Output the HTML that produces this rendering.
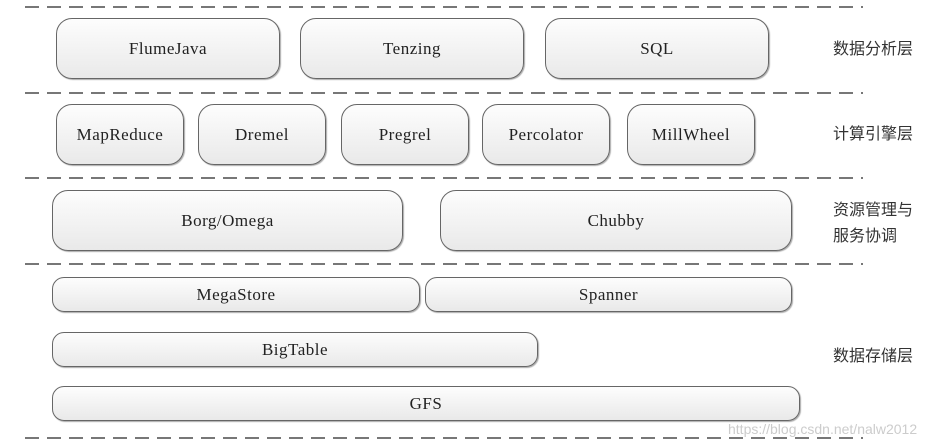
<!DOCTYPE html>
<html><head><meta charset="utf-8"><style>
body{margin:0;width:952px;height:448px;background:#fff;position:relative;overflow:hidden;font-family:"Liberation Serif","Noto Serif CJK SC",serif}
svg{position:absolute;left:0;top:0}
.b{position:absolute;box-sizing:border-box;border:1.5px solid #666;background:linear-gradient(#fdfdfd,#e9e9e9);display:flex;align-items:center;justify-content:center;font-size:17px;color:#222;box-shadow:1px 1px 1px #aaa;letter-spacing:0.5px}
.t{border-radius:16px}.s{border-radius:12px}
.l{position:absolute;left:833px;font-family:"Liberation Sans","Noto Sans CJK SC",sans-serif;font-size:16px;color:#333;line-height:26px}
.w{position:absolute;left:728px;top:421px;font-family:"Liberation Sans",sans-serif;font-size:14px;color:#ccc}
</style></head><body>
<svg width="952" height="448"><g stroke="#777" stroke-width="2" stroke-dasharray="14 8">
<line x1="25" y1="7" x2="863" y2="7"/>
<line x1="25" y1="93" x2="863" y2="93"/>
<line x1="25" y1="178" x2="863" y2="178"/>
<line x1="25" y1="264" x2="863" y2="264"/>
<line x1="25" y1="438" x2="863" y2="438"/>
</g></svg>
<div class="b t" style="left:56px;top:18px;width:224px;height:61px">FlumeJava</div>
<div class="b t" style="left:300px;top:18px;width:224px;height:61px">Tenzing</div>
<div class="b t" style="left:545px;top:18px;width:224px;height:61px">SQL</div>
<div class="b t" style="left:56px;top:104px;width:128px;height:61px">MapReduce</div>
<div class="b t" style="left:198px;top:104px;width:128px;height:61px">Dremel</div>
<div class="b t" style="left:341px;top:104px;width:128px;height:61px">Pregrel</div>
<div class="b t" style="left:482px;top:104px;width:128px;height:61px">Percolator</div>
<div class="b t" style="left:627px;top:104px;width:128px;height:61px">MillWheel</div>
<div class="b t" style="left:52px;top:190px;width:351px;height:61px">Borg/Omega</div>
<div class="b t" style="left:440px;top:190px;width:352px;height:61px">Chubby</div>
<div class="b s" style="left:52px;top:277px;width:368px;height:35px">MegaStore</div>
<div class="b s" style="left:425px;top:277px;width:367px;height:35px">Spanner</div>
<div class="b s" style="left:52px;top:332px;width:486px;height:35px">BigTable</div>
<div class="b s" style="left:52px;top:386px;width:748px;height:35px">GFS</div>
<div class="l" style="top:37px">数据分析层</div>
<div class="l" style="top:122px">计算引擎层</div>
<div class="l" style="top:198px">资源管理与<br>服务协调</div>
<div class="l" style="top:344px">数据存储层</div>
<div class="w">https://blog.csdn.net/nalw2012</div>
</body></html>
